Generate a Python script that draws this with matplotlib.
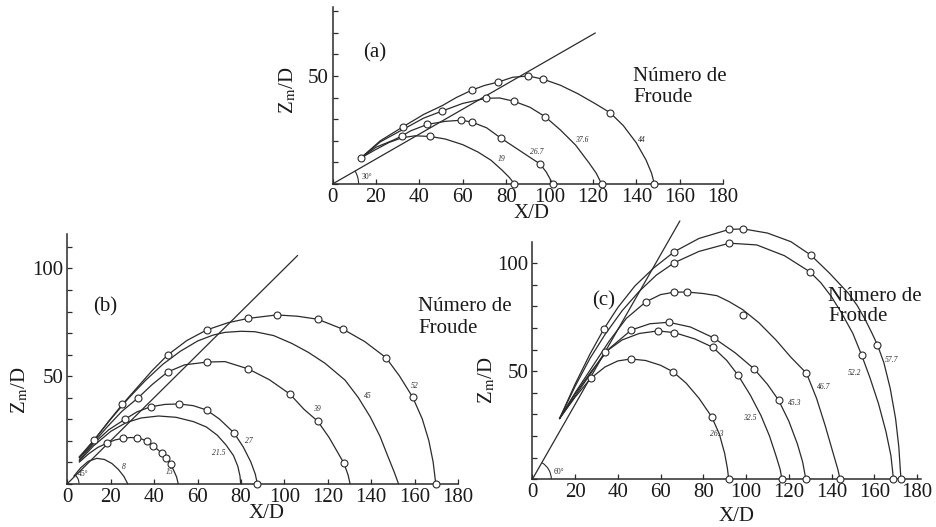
import matplotlib.pyplot as plt
from matplotlib.patches import Arc

plt.rcParams['font.family'] = ['Liberation Serif', 'DejaVu Serif']
plt.rcParams['mathtext.fontset'] = 'stix'

# ---------------- (a) 30 graus ----------------
a_froude = ['19', '26.7', '37.6', '44']
a_x = [
    [13, 20, 26, 32, 38, 45, 52, 60, 67, 73, 78, 81.5, 83.8],
    [13, 20, 28, 31.9, 36, 43.7, 52, 59.2, 64.1, 71, 77.6, 85, 91, 95.6, 98.5, 101.5],
    [13, 22, 32, 42, 50.6, 60, 70.9, 77, 83.6, 91, 97.9, 105, 112, 118, 121.5, 124],
    [13, 22, 32.5, 42, 50.6, 57, 64.3, 70, 76.4, 83, 90.2, 97.1, 105, 113, 121, 127.9, 134, 140, 144.5, 147, 148.3],
]
a_y = [
    [12, 16, 19.2, 21.4, 22.3, 22.0, 20.8, 18.2, 14.8, 11, 6.5, 3, 0],
    [12, 17, 20.3, 22.2, 24.6, 27.6, 29.0, 29.5, 28.7, 26, 21.2, 16.3, 12.3, 9.3, 5.5, 0],
    [12, 19.5, 25, 30.5, 33.8, 37.3, 39.7, 39.8, 38.3, 35.5, 31.2, 25, 18, 10, 5, 0],
    [12, 20, 26.5, 32.2, 36.3, 40, 43.5, 45.6, 47.2, 49.4, 50, 48.5, 45.7, 41.8, 37.2, 33, 27, 19, 11, 5, 0],
]
a_mx = [[45.1, 83.8], [31.9, 43.7, 59.2, 64.1, 77.6, 95.6, 101.5],
        [50.6, 70.9, 83.6, 97.9, 124], [13, 32.5, 64.3, 76.4, 90.2, 97.1, 127.9, 148.3]]
a_my = [[22.0, 0], [22.2, 27.6, 29.5, 28.7, 21.2, 9.3, 0],
        [33.8, 39.7, 38.3, 31.2, 0], [12, 26.5, 43.5, 47.2, 50, 48.5, 33, 0]]

# ---------------- (b) 45 graus ----------------
b_froude = ['8', '15', '21.5', '27', '39', '45', '52']
b_x = [
    [3, 6, 9.5, 13.5, 17, 20.5, 23.5, 26, 27.7],
    [5.5, 10, 14, 18.2, 22, 25.7, 29, 31.9, 34.5, 37, 39.5, 42, 44.2, 46, 47.6, 49, 50.3, 51],
    [5.5, 12, 20, 27, 34, 42, 50, 58, 64, 69, 73, 76.5, 78.5, 79.5, 79.8],
    [5.5, 12, 19, 26.5, 32, 38.3, 45, 51.4, 58, 64.1, 70, 76.7, 81, 84.5, 86.5, 87.5],
    [5.5, 12, 18, 25, 32.6, 39, 46.2, 54, 64.4, 72.6, 83.3, 93, 102.5, 109, 115.3, 120.5, 124.5, 127.4, 129.3, 130.2],
    [5.5, 12, 20, 28, 36, 44, 52, 60, 67, 72.6, 80, 86.4, 95, 103.3, 111, 118.7, 127.9, 134, 139.5, 144, 147.5, 150.5, 152.5],
    [5.5, 12.4, 19, 25.3, 32, 39, 46.2, 55, 64.1, 74, 83.3, 96.4, 106, 115.3, 127.1, 137, 146.8, 153, 159.1, 163.5, 166.5, 168.5, 169.7],
]
b_y = [
    [3.5, 7.2, 10.3, 11.7, 11.2, 9.3, 6.5, 3.3, 0],
    [10, 14, 16.8, 18.8, 20.3, 21, 21.4, 21.3, 20.6, 19.4, 17.6, 15.4, 13.3, 11.3, 8.9, 6, 3, 0],
    [10.5, 17.5, 24.3, 28.3, 30.5, 31.4, 30.8, 28.8, 26.3, 22.5, 18, 13, 8, 3.5, 0],
    [11, 18.5, 25, 29.9, 33.3, 35.7, 36.8, 37, 36.2, 34.2, 30, 23.6, 17, 10, 4.5, 0],
    [12, 19, 26, 33.5, 39.9, 46, 51.9, 55.2, 56.5, 56.7, 53.3, 48.3, 41.6, 34.5, 29, 21.5, 14.5, 9.4, 4, 0],
    [12, 20, 30, 39.5, 48, 55.5, 61.5, 66.3, 69, 70.3, 70.8, 70.6, 68.8, 65.2, 61, 55.9, 48.1, 40, 31, 22, 13, 5.5, 0],
    [12.5, 20.2, 29, 36.8, 44.5, 52.5, 59.8, 66.5, 71.4, 74.8, 76.8, 78.4, 77.8, 76.4, 71.7, 66, 58.5, 50, 40.1, 30, 20, 10, 0],
]
b_mx = [[], [18.2, 25.7, 31.9, 36.5, 39.5, 43.4, 45.5, 47.6], [],
        [26.5, 38.3, 51.4, 64.1, 76.7, 87.5],
        [32.6, 46.2, 64.4, 83.3, 102.5, 115.3, 127.4], [],
        [12.4, 25.3, 46.2, 64.1, 83.3, 96.4, 115.3, 127.1, 146.8, 159.1, 169.7]]
b_my = [[], [18.8, 21.0, 21.3, 19.6, 17.6, 14.0, 11.8, 8.9], [],
        [29.9, 35.7, 37.0, 34.2, 23.6, 0],
        [39.9, 51.9, 56.5, 53.3, 41.6, 29, 9.4], [],
        [20.2, 36.8, 59.8, 71.4, 76.8, 78.4, 76.4, 71.7, 58.5, 40.1, 0]]

# ---------------- (c) 60 graus ----------------
c_froude = ['26.3', '32.5', '45.3', '46.7', '52.2', '57.7']
c_x = [
    [12.8, 20, 27.4, 34, 40, 46.1, 53, 60, 65.8, 72, 78, 83.9, 87.5, 90, 91.3, 91.9],
    [12.8, 20, 27, 34, 42, 50, 58.8, 66.5, 76, 84.5, 91, 96.2, 102, 107, 111, 114, 116, 116.8],
    [12.8, 20, 28, 36, 46.3, 55, 63.8, 74, 85, 95, 103.7, 110, 115.2, 120, 124, 126.5, 128],
    [12.8, 20, 28, 36, 44, 53.2, 60, 66.2, 72.4, 80, 86.4, 92, 98.5, 106, 114, 121, 128.3, 133, 137, 140.5, 143, 144],
    [12.8, 20, 27, 34, 42, 50, 58, 66.5, 78, 92.2, 105, 118, 129.8, 135, 140, 145, 150, 154.1, 158, 162, 165.5, 167.8, 169],
    [12.8, 20, 27, 33.5, 40, 48, 57, 66.5, 78, 92.2, 98.8, 110, 121, 130.3, 139, 147.9, 152, 156, 159, 161.5, 164.5, 167.5, 170, 171.5, 172.5],
]
c_y = [
    [28.2, 38, 46.8, 52, 54.8, 55.7, 55, 52.8, 49.8, 44.5, 37.5, 29.0, 21, 12, 5, 0],
    [28.2, 38.5, 48.5, 58.8, 64.5, 67.5, 68.7, 67.9, 65, 61.1, 55, 48.3, 39, 29.5, 20, 11, 4.5, 0],
    [28.2, 39.5, 50.5, 60.5, 69.1, 72, 72.7, 70.5, 65.4, 58.5, 51.2, 44, 36.7, 27, 16.5, 8, 0],
    [28.2, 40, 52, 64, 74.5, 82.2, 85.5, 86.6, 86.7, 86.0, 85.0, 82.3, 78.5, 72.5, 64.5, 56.5, 49.1, 37.5, 25, 13, 4.5, 0],
    [28.2, 43, 56, 67, 78, 87, 94.5, 100.3, 105.5, 109.3, 108.5, 103.5, 96.1, 91, 84.5, 76.5, 67.5, 57.5, 47, 35, 22, 11, 0],
    [28.2, 44, 58, 69.6, 79.5, 89.5, 98, 105.4, 111.5, 115.7, 115.9, 114, 110, 103.8, 95.5, 86.1, 80.5, 73.5, 67.5, 62.2, 54, 42, 28, 15, 0],
]
c_mx = [[27.4, 46.1, 65.8, 83.9, 91.9], [34, 58.8, 66.5, 84.5, 96.2, 116.8],
        [46.3, 63.8, 85, 103.7, 115.2, 128], [53.2, 66.2, 72.4, 98.5, 128.3, 144],
        [66.5, 92.2, 129.8, 154.1, 169], [33.5, 66.5, 92.2, 98.8, 130.3, 161.5, 172.5]]
c_my = [[46.8, 55.7, 49.8, 29.0, 0], [58.8, 68.7, 67.9, 61.1, 48.3, 0],
        [69.1, 72.7, 65.4, 51.2, 36.7, 0], [82.2, 86.6, 86.7, 76.1, 49.1, 0],
        [100.3, 109.3, 96.1, 57.5, 0], [69.6, 105.4, 115.7, 115.9, 103.8, 62.2, 0]]

ink = '#2b2b2b'
fig = plt.figure(figsize=(9.37, 5.27), dpi=100)

panels = [
    dict(rect=[0.3549, 0.6509, 0.4169, 0.3361], xmax=180, ymax=82, yt=range(0, 81, 10), ylab=[50],
         ang=30, lx=121, arc=12, angpos=(15.8, 3.1), name='(a)', npos=(19.6, 60.5),
         fpos=(138.6, 44.7), fsp=1.15, xl=(0.51, -0.165), yl=(-0.114, 0.53),
         fr=a_froude, x=a_x, y=a_y, mx=a_mx, my=a_my,
         lab=[(78, 11.4), (94.1, 15), (114.8, 20.4), (142.5, 20.4)]),
    dict(rect=[0.0720, 0.0825, 0.4169, 0.4733], xmax=180, ymax=116, yt=range(0, 111, 10), ylab=[50, 100],
         ang=45, lx=106, arc=5.3, angpos=(7.2, 4.2), name='(b)', npos=(17.3, 82.2),
         fpos=(161.5, 77.2), fsp=1.15, xl=(0.51, -0.12), yl=(-0.122, 0.375),
         fr=b_froude, x=b_x, y=b_y, mx=b_mx, my=b_my,
         lab=[(26, 7.8), (47.2, 5.5), (69.5, 14), (83.8, 19.9), (115.1, 34.5), (138.6, 40.7), (160.1, 45.3)]),
    dict(rect=[0.5681, 0.0905, 0.4151, 0.4509], xmax=182, ymax=110, yt=range(0, 110, 10), ylab=[50, 100],
         ang=60, lx=69, arc=8.9, angpos=(12.5, 3.6), name='(c)', npos=(33.2, 82.5),
         fpos=(138.5, 79.9), fsp=1.1, xl=(0.526, -0.157), yl=(-0.117, 0.418),
         fr=c_froude, x=c_x, y=c_y, mx=c_mx, my=c_my,
         lab=[(86.2, 21), (101.8, 28.2), (122.6, 35.2), (136.4, 42.9), (151, 49.1), (167.9, 55.2)]),
]

import numpy as np

for p in panels:
    ax = fig.add_axes(p['rect'])
    ax.set_xlim(0, p['xmax'])
    ax.set_ylim(0, p['ymax'])
    for s in ['top', 'right']:
        ax.spines[s].set_visible(False)
    for s in ['left', 'bottom']:
        ax.spines[s].set_color(ink)
        ax.spines[s].set_linewidth(1.1)
    ax.set_xticks(range(0, 181, 20))
    ax.set_yticks(list(p['yt']))
    ax.set_yticklabels([str(v) if v in p['ylab'] else '' for v in p['yt']])
    ax.tick_params(direction='in', length=3.5, width=0.9, color=ink, labelsize=15,
                   labelcolor='#1a1a1a', pad=3)

    # reference line at the discharge angle
    t = np.tan(np.radians(p['ang']))
    ax.plot([0, p['lx']], [0, p['lx'] * t], color=ink, lw=0.9, clip_on=False)
    ax.add_patch(Arc((0, 0), 2 * p['arc'], 2 * p['arc'], theta1=0, theta2=p['ang'],
                     color=ink, lw=0.8))
    ax.text(*p['angpos'], f"{p['ang']}°", fontsize=5.5, color=ink, ha='center', va='center')

    for i, fr in enumerate(p['fr']):
        ax.plot(p['x'][i], p['y'][i], color=ink, lw=0.9, clip_on=False, zorder=3)
        if p['mx'][i]:
            ax.plot(p['mx'][i], p['my'][i], 'o', ms=5, mfc='white', mec=ink, mew=0.8,
                    clip_on=False, zorder=4)
        ax.text(*p['lab'][i], fr, fontsize=5.5, color=ink, ha='center', va='center',
                style='italic')

    ax.text(*p['npos'], p['name'], fontsize=15, color='#1a1a1a', ha='center', va='center')
    ax.text(*p['fpos'], 'Número de\nFroude', fontsize=15, color='#1a1a1a', ha='left',
            va='center', linespacing=p['fsp'])
    ax.text(*p['xl'], 'X/D', transform=ax.transAxes, fontsize=15, color='#1a1a1a',
            ha='center', va='center')
    ax.text(*p['yl'], r'Z$_{\mathrm{m}}$/D', transform=ax.transAxes, fontsize=15,
            color='#1a1a1a', ha='center', va='center', rotation=90)
    ax.patch.set_alpha(0)

fig.savefig('out.png', dpi=100, facecolor='white')
